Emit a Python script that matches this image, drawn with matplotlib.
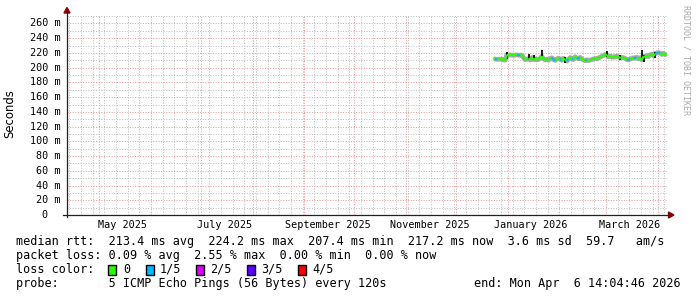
import matplotlib
matplotlib.use('Agg')
import matplotlib.pyplot as plt
import matplotlib.dates as mdates
import matplotlib.transforms as mtrans
from matplotlib.collections import LineCollection
from matplotlib.lines import Line2D
from matplotlib.patches import Polygon, Rectangle
from matplotlib.ticker import MultipleLocator
import pandas as pd
from datetime import datetime, timedelta

W, H = 697, 297

# ---------------- data ----------------
end_time = datetime(2026, 4, 6, 14, 4, 46)
span_days = 360
data_start = '2025-12-23 12:00'

median_ms = [
    # Dec 23 - Dec 31
    211.5, 211.8, 211.3, 211.6, 211.4, 211.7, 210.5, 210.2, 217.5,
    # Jan
    217.0, 217.3, 217.2, 216.8, 217.1, 217.4, 217.0, 216.9, 217.2, 213.5,
    210.8, 211.5, 212.5, 210.5, 213.8, 211.0, 212.0, 210.6, 211.2, 213.0,
    215.5, 212.0, 210.5, 211.8, 210.2, 212.4, 213.5, 211.0, 209.8, 211.5,
    213.0,
    # Feb
    212.0, 210.0, 212.8, 210.5, 209.0, 211.5, 213.8, 212.5, 211.0, 214.8,
    213.2, 212.0, 214.0, 211.8, 210.5, 209.5, 210.8, 209.6, 210.5, 211.0,
    212.0, 212.5, 211.8, 213.0, 214.5, 215.5, 216.5, 218.0,
    # Mar
    217.0, 214.5, 215.8, 214.0, 215.0, 214.2, 216.0, 214.5, 213.0, 214.0,
    213.5, 212.5, 211.0, 210.5, 211.8, 212.5, 213.5, 212.8, 214.2, 212.0,
    213.5, 210.5, 215.5, 214.8, 216.5, 215.0, 217.5, 218.5, 216.0, 219.0,
    220.0,
    # Apr
    220.5, 219.5, 218.0, 219.5, 218.0, 217.2,
]

loss_level = [
    0, 0, 1, 0, 0, 0, 0, 0, 0,
    0, 0, 0, 0, 0, 0, 1, 1, 0, 0,
    0, 0, 0, 0, 0, 0, 0, 0, 0, 0,
    0, 0, 0, 0, 0, 0, 0, 1, 1, 0,
    0,
    0, 1, 0, 0, 0, 1, 0, 0, 1, 0,
    0, 1, 1, 0, 0, 0, 1, 0, 0, 0,
    0, 0, 0, 0, 0, 0, 0, 0,
    0, 0, 0, 0, 0, 0, 0, 0, 0, 0,
    0, 0, 0, 1, 1, 0, 0, 1, 1, 0,
    0, 0, 0, 0, 0, 0, 0, 0, 0, 0,
    1,
    1, 1, 0, 0, 0, 0,
]

spike_dates = ['2025-12-31 12:00', '2026-01-13 12:00', '2026-01-16 12:00',
               '2026-01-21 12:00', '2026-02-04 12:00', '2026-03-01 12:00',
               '2026-03-09 12:00', '2026-03-22 12:00', '2026-03-23 12:00',
               '2026-03-30 12:00']
spike_lo = [212.0, 210.5, 210.5, 214.5, 206.5, 215.0, 211.0, 210.5, 207.4, 213.0]
spike_hi = [221.0, 218.5, 217.5, 224.2, 214.5, 222.0, 217.0, 223.5, 217.0, 221.0]

y_ticks = [0, 20, 40, 60, 80, 100, 120, 140, 160, 180, 200, 220, 240, 260]
y_tick_labels = ['0  ', '20 m', '40 m', '60 m', '80 m', '100 m', '120 m',
                 '140 m', '160 m', '180 m', '200 m', '220 m', '240 m', '260 m']
x_label_dates = ['2025-05-15', '2025-07-15', '2025-09-15', '2025-11-15',
                 '2026-01-15', '2026-03-15']
x_labels = ['May 2025', 'July 2025', 'September 2025', 'November 2025',
            'January 2026', 'March 2026']

loss_names = ['0', '1/5', '2/5', '3/5', '4/5']
loss_colors = ['#26ff00', '#00b8ff', '#dd00ff', '#5e00ff', '#ff0000']

legend_rtt = "median rtt:  213.4 ms avg  224.2 ms max  207.4 ms min  217.2 ms now  3.6 ms sd  59.7   am/s"
legend_loss = "packet loss: 0.09 % avg  2.55 % max  0.00 % min  0.00 % now"
legend_probe = "probe:       5 ICMP Echo Pings (56 Bytes) every 120s"
legend_end = "end: Mon Apr  6 14:04:46 2026"

# ---------------- layout ----------------
plt.rcParams['lines.scale_dashes'] = False
MONO = 'DejaVu Sans Mono'
plot_l, plot_r, plot_t, plot_b = 67, 667, 15, 215
y_max = (plot_b - plot_t) / ((plot_b - 23.5) / 260.0)
PX = 0.72  # one pixel in points


def fx(x):
    return x / W


def fy(y):
    return 1 - y / H


fig = plt.figure(figsize=(W / 100, H / 100), dpi=100)
fig.patch.set_facecolor('white')
ax = fig.add_axes([fx(plot_l), fy(plot_b), (plot_r - plot_l) / W, (plot_b - plot_t) / H])
ax.set_facecolor('white')

start_time = end_time - timedelta(days=span_days)
ax.set_xlim(start_time, end_time)
ax.set_ylim(0, y_max)

for s in ax.spines.values():
    s.set_visible(False)

# grids (dotted)
ax.xaxis.set_major_locator(mdates.MonthLocator(bymonthday=1))
ax.xaxis.set_minor_locator(mdates.WeekdayLocator(byweekday=mdates.SU))
ax.yaxis.set_major_locator(MultipleLocator(20))
ax.yaxis.set_minor_locator(MultipleLocator(10))
ax.grid(which='minor', color='#bdbdbd', linestyle=(0, (PX, PX * 1.6)), linewidth=PX)
ax.grid(which='major', color='#e99a9a', linestyle=(0, (PX, PX * 1.6)), linewidth=PX)
ax.set_axisbelow(True)
ax.tick_params(which='both', length=0, labelbottom=False, labelleft=False)

# y tick labels
trans_y = mtrans.blended_transform_factory(fig.transFigure, ax.transData)
for v, lab in zip(y_ticks, y_tick_labels):
    fig.text(fx(60.5), v, lab, transform=trans_y, ha='right', va='center',
             fontsize=7.3, family=MONO, color='#000000')

# x labels
trans_x = mtrans.blended_transform_factory(ax.transData, fig.transFigure)
for d, lab in zip(x_label_dates, x_labels):
    ax.text(pd.Timestamp(d), fy(225), lab, transform=trans_x, ha='center', va='center',
            fontsize=7.3, family=MONO, color='#000000', clip_on=False)

# y unit label
fig.text(fx(10), fy(114), 'Seconds', rotation=90, ha='center', va='center',
         fontsize=8.4, family='DejaVu Sans', color='#000000')

# data
dates = pd.date_range(data_start, periods=len(median_ms), freq='D')
xnum = mdates.date2num(dates.to_pydatetime())
ax.plot(xnum, median_ms, color='#a8a8a8', linewidth=3.4, solid_capstyle='butt', zorder=2)
sd = mdates.date2num(pd.to_datetime(spike_dates).to_pydatetime())
ax.vlines(sd, spike_lo, spike_hi, color='#181818', linewidth=1.4, zorder=3)
segs = []
cols = []
for i in range(len(median_ms) - 1):
    segs.append([(xnum[i], median_ms[i]), (xnum[i + 1], median_ms[i + 1])])
    cols.append(loss_colors[loss_level[i + 1]])
lc = LineCollection(segs, colors=cols, linewidths=1.5, zorder=4, capstyle='butt')
ax.add_collection(lc)

# axes lines and arrows
axis_col = '#202020'
arrow_col = '#8b0000'
fig.add_artist(Line2D([fx(plot_l), fx(plot_l)], [fy(plot_b + 2), fy(12)], color=axis_col,
                      linewidth=0.9, transform=fig.transFigure))
fig.add_artist(Line2D([fx(63), fx(670)], [fy(plot_b), fy(plot_b)], color=axis_col,
                      linewidth=0.9, transform=fig.transFigure))
fig.add_artist(Polygon([(fx(plot_l), fy(7.5)), (fx(plot_l - 3), fy(13)), (fx(plot_l + 3), fy(13))],
                       closed=True, color=arrow_col, transform=fig.transFigure))
fig.add_artist(Polygon([(fx(674), fy(plot_b)), (fx(668.5), fy(plot_b - 3)), (fx(668.5), fy(plot_b + 3))],
                       closed=True, color=arrow_col, transform=fig.transFigure))

# watermark
fig.text(fx(686), fy(5), 'RRDTOOL / TOBI OETIKER', rotation=270, ha='center', va='top',
         fontsize=6.0, family=MONO, color='#aaaaaa')

# legend
LFS = 8.5
fig.text(fx(16), fy(241), legend_rtt, ha='left', va='center', fontsize=LFS, family=MONO)
fig.text(fx(16), fy(255), legend_loss, ha='left', va='center', fontsize=LFS, family=MONO)
fig.text(fx(16), fy(269.5), 'loss color:', ha='left', va='center', fontsize=LFS, family=MONO)
box_x = [108, 146, 196, 247, 298]
lab_x = [123, 160, 210.5, 261.5, 312]
for bx, lx, name, col in zip(box_x, lab_x, loss_names, loss_colors):
    fig.add_artist(Rectangle((fx(bx), fy(274.5)), 8 / W, 10 / H, facecolor=col, edgecolor='black',
                             linewidth=1.0, transform=fig.transFigure))
    fig.text(fx(lx), fy(269.5), name, ha='left', va='center', fontsize=LFS, family=MONO)
fig.text(fx(16), fy(284), legend_probe, ha='left', va='center', fontsize=LFS, family=MONO)
fig.text(fx(681), fy(284), legend_end, ha='right', va='center', fontsize=LFS, family=MONO)

fig.savefig('out.png', dpi=100, facecolor='white')
